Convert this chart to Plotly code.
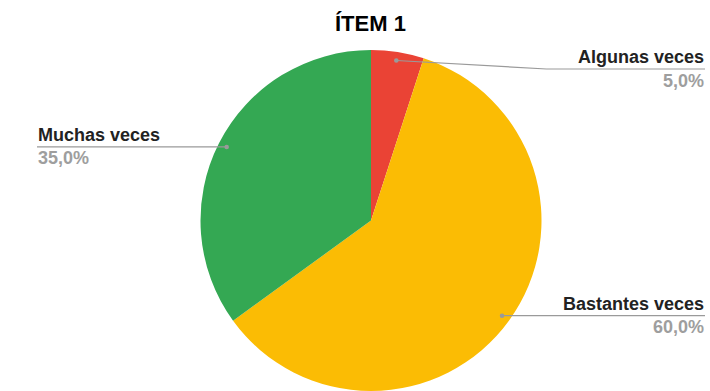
import math
import plotly.graph_objects as go

# Survey answers for item 1
categories = ["Algunas veces", "Bastantes veces", "Muchas veces"]
values = [5.0, 60.0, 35.0]
colors = ["#EA4335", "#FBBC04", "#34A853"]
title_text = "ÍTEM 1"

W, H = 710, 391
CX, CY, R = 371.0, 220.5, 170.5      # pie centre / radius in pixels (from top-left)
LABEL_TOP = 69.0                      # labels never rise above this line
RIGHT_X, LEFT_X = 705.0, 37.0
LINE_COLOR = "#9a9a9a"
FONT = "Liberation Sans, Arial"


def px(x):
    return x / W


def py(y):
    return 1 - y / H


fig = go.Figure(go.Pie(
    labels=categories,
    values=values,
    marker=dict(colors=colors, line=dict(width=0)),
    sort=False,
    direction="clockwise",
    rotation=0,
    textinfo="none",
    hoverinfo="label+percent",
    showlegend=False,
    domain=dict(x=[px(CX - R), px(CX + R)], y=[0, 2 * R / H]),
))

shapes, annotations = [], []
total = sum(values)
cum = 0.0
for name, v in zip(categories, values):
    mid = (cum + v / 2) / total * 2 * math.pi
    cum += v
    dx, dy = math.sin(mid), -math.cos(mid)
    dot_x, dot_y = CX + 0.95 * R * dx, CY + 0.95 * R * dy
    line_y = max(dot_y, LABEL_TOP)
    right = dx > 0
    end_x = RIGHT_X if right else LEFT_X
    if abs(line_y - dot_y) > 0.5:
        # label pushed down: bend the leader just outside the pie
        elbow_x = CX + R + 5 if right else CX - R - 5
        path = f"M {px(dot_x)} {py(dot_y)} L {px(elbow_x)} {py(line_y)} L {px(end_x)} {py(line_y)}"
    else:
        path = f"M {px(dot_x)} {py(dot_y)} L {px(end_x)} {py(line_y)}"
    shapes.append(dict(type="path", xref="paper", yref="paper", path=path,
                       line=dict(color=LINE_COLOR, width=1.2)))
    rd = 2.3
    shapes.append(dict(type="circle", xref="paper", yref="paper",
                       x0=px(dot_x - rd), x1=px(dot_x + rd),
                       y0=py(dot_y + rd), y1=py(dot_y - rd),
                       fillcolor=LINE_COLOR, line=dict(width=0)))
    anchor = "right" if right else "left"
    annotations.append(dict(x=px(end_x), y=py(line_y - 0.5), xref="paper", yref="paper",
                            text=f"<b>{name}</b>", showarrow=False,
                            xanchor=anchor, yanchor="bottom", borderpad=0,
                            font=dict(family=FONT, size=18, color="#222222")))
    pct = f"{v / total * 100:.1f}".replace(".", ",") + "%"
    annotations.append(dict(x=px(end_x), y=py(line_y + 0.5), xref="paper", yref="paper",
                            text=f"<b>{pct}</b>", showarrow=False,
                            xanchor=anchor, yanchor="top", borderpad=0,
                            font=dict(family=FONT, size=18, color="#9e9e9e")))

annotations.append(dict(x=px(370.5), y=py(37), xref="paper", yref="paper",
                        text=f"<b>{title_text}</b>", showarrow=False,
                        xanchor="center", yanchor="bottom", borderpad=0,
                        font=dict(family=FONT, size=22, color="#000000")))

fig.update_layout(
    width=W, height=H,
    margin=dict(l=0, r=0, t=0, b=0),
    paper_bgcolor="white",
    plot_bgcolor="white",
    shapes=shapes,
    annotations=annotations,
)

fig.write_html("out.html")
